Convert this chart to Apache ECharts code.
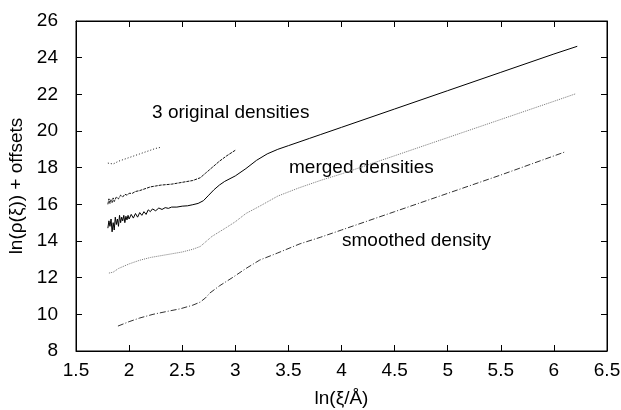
<!DOCTYPE html>
<html>
<head>
<meta charset="utf-8">
<script src="https://cdn.jsdelivr.net/npm/echarts@6/dist/echarts.min.js"></script>
</head>
<body style="margin:0">
<div id="chart" style="width:621px;height:410px"></div>
<script>
// values: [ln(xi/A), ln(rho) + offset]
const original1 = [
  [1.80, 18.25], [1.85, 18.2], [1.90, 18.35], [1.95, 18.45], [2.00, 18.55], [2.05, 18.65],
  [2.10, 18.75], [2.15, 18.85], [2.20, 18.95], [2.25, 19.05], [2.29, 19.1]
];
const original2 = [
  [1.80, 16.0], [1.81, 16.3], [1.82, 16.05], [1.83, 16.25], [1.84, 16.1], [1.85, 16.35],
  [1.86, 16.15], [1.88, 16.4], [1.90, 16.3], [1.92, 16.5], [1.94, 16.4], [1.96, 16.55],
  [1.98, 16.5], [2.00, 16.6], [2.03, 16.6], [2.06, 16.7], [2.10, 16.75], [2.15, 16.85],
  [2.20, 16.95], [2.25, 17.0], [2.30, 17.05], [2.40, 17.1], [2.50, 17.2], [2.60, 17.3],
  [2.67, 17.45], [2.72, 17.7], [2.78, 18.0], [2.85, 18.35], [2.92, 18.65], [3.00, 18.95]
];
const original3 = [
  [1.80, 14.7], [1.81, 15.1], [1.82, 14.8], [1.83, 15.2], [1.84, 14.5], [1.85, 15.0],
  [1.86, 14.6], [1.87, 15.3], [1.88, 14.9], [1.89, 15.2], [1.90, 14.8], [1.91, 15.4],
  [1.92, 15.0], [1.93, 15.3], [1.94, 15.1], [1.95, 15.4], [1.96, 15.0], [1.97, 15.35],
  [1.98, 15.15], [1.99, 15.4], [2.00, 15.2], [2.02, 15.45], [2.04, 15.25], [2.06, 15.5],
  [2.08, 15.3], [2.10, 15.55], [2.12, 15.4], [2.14, 15.6], [2.16, 15.45], [2.18, 15.7],
  [2.20, 15.6], [2.22, 15.75], [2.25, 15.65], [2.28, 15.8], [2.31, 15.72], [2.34, 15.82],
  [2.37, 15.78], [2.40, 15.85], [2.45, 15.85], [2.50, 15.9], [2.55, 15.92], [2.60, 15.98],
  [2.65, 16.05], [2.70, 16.2], [2.75, 16.5], [2.80, 16.8], [2.85, 17.05], [2.90, 17.25],
  [3.00, 17.55], [3.10, 17.95], [3.20, 18.4], [3.30, 18.75], [3.40, 19.0], [3.50, 19.2],
  [3.60, 19.4], [3.70, 19.6], [3.80, 19.8], [4.00, 20.2], [4.50, 21.2], [5.00, 22.2],
  [5.50, 23.2], [6.00, 24.2], [6.22, 24.62]
];
const merged = [
  [1.81, 12.25], [1.85, 12.3], [1.90, 12.5], [2.00, 12.75], [2.10, 12.95], [2.20, 13.1],
  [2.30, 13.2], [2.40, 13.3], [2.50, 13.4], [2.60, 13.55], [2.67, 13.7], [2.72, 13.95],
  [2.78, 14.25], [2.85, 14.5], [2.92, 14.75], [3.00, 15.05], [3.10, 15.5], [3.23, 15.9],
  [3.40, 16.45], [3.60, 16.9], [3.80, 17.3], [4.00, 17.66], [4.50, 18.65], [5.00, 19.64],
  [5.50, 20.63], [6.00, 21.62], [6.20, 22.02]
];
const smoothed = [
  [1.895, 9.36], [2.00, 9.6], [2.10, 9.8], [2.225, 10.0], [2.35, 10.15], [2.48, 10.3],
  [2.60, 10.5], [2.67, 10.67], [2.72, 10.9], [2.76, 11.16], [2.85, 11.55], [2.98, 12.03],
  [3.10, 12.5], [3.23, 12.96], [3.40, 13.35], [3.61, 13.85], [3.80, 14.2], [4.00, 14.6],
  [4.50, 15.6], [5.00, 16.6], [5.50, 17.6], [6.10, 18.85]
];
const annotations = [
  [2.216, 20.98, '3 original densities'],
  [3.506, 17.98, 'merged densities'],
  [4.005, 14.0, 'smoothed density']
];

const FONT = 'Liberation Sans, Arial, sans-serif';
const FS = 19;
const chart = echarts.init(document.getElementById('chart'));

function line(data, color, type) {
  return {
    type: 'line', data: data, showSymbol: false, animation: false,
    lineStyle: { color: color, width: 1, type: type }
  };
}

function frameAxis(extra) {
  return Object.assign({
    type: 'value', z: 10,
    splitLine: { show: false },
    axisLine: { show: true, onZero: false, lineStyle: { color: '#000', width: 1 } },
    axisTick: { show: true, inside: true, length: 6, lineStyle: { color: '#000', width: 1 } }
  }, extra);
}

chart.setOption({
  backgroundColor: '#fff',
  grid: {
    left: 76, right: 14, top: 21, bottom: 59, outerBoundsMode: 'none', containLabel: false,
    show: true, borderColor: '#000', borderWidth: 1
  },
  xAxis: [
    frameAxis({
      min: 1.5, max: 6.5, interval: 0.5,
      name: 'ln(ξ/Å)', nameLocation: 'middle', nameGap: 38,
      nameTextStyle: { fontFamily: FONT, fontSize: FS, color: '#000' },
      axisLabel: { fontFamily: FONT, fontSize: FS, color: '#000', margin: 10 }
    }),
    frameAxis({ min: 1.5, max: 6.5, interval: 0.5, position: 'top', axisLabel: { show: false } })
  ],
  yAxis: [
    frameAxis({
      min: 8, max: 26, interval: 2,
      name: 'ln(ρ(ξ)) + offsets', nameLocation: 'middle', nameGap: 48,
      nameTextStyle: { fontFamily: FONT, fontSize: FS, color: '#000' },
      axisLabel: { fontFamily: FONT, fontSize: FS, color: '#000', margin: 18 }
    }),
    frameAxis({ min: 8, max: 26, interval: 2, position: 'right', axisLabel: { show: false } })
  ],
  series: [
    line(original1, '#222', [1, 2]),
    line(original2, '#111', [3, 1]),
    line(original3, '#000', 'solid'),
    line(merged, '#777', [1, 1]),
    line(smoothed, '#333', [6, 2, 1, 2])
  ]
});

// text annotations placed at data coordinates through the chart's own scales
chart.setOption({
  graphic: annotations.map(a => {
    const p = chart.convertToPixel({ xAxisIndex: 0, yAxisIndex: 0 }, [a[0], a[1]]);
    return {
      type: 'text', x: p[0], y: p[1], silent: true,
      style: {
        text: a[2], fill: '#000', font: FS + 'px ' + FONT,
        textAlign: 'left', textVerticalAlign: 'middle'
      }
    };
  })
});
</script>
</body>
</html>
